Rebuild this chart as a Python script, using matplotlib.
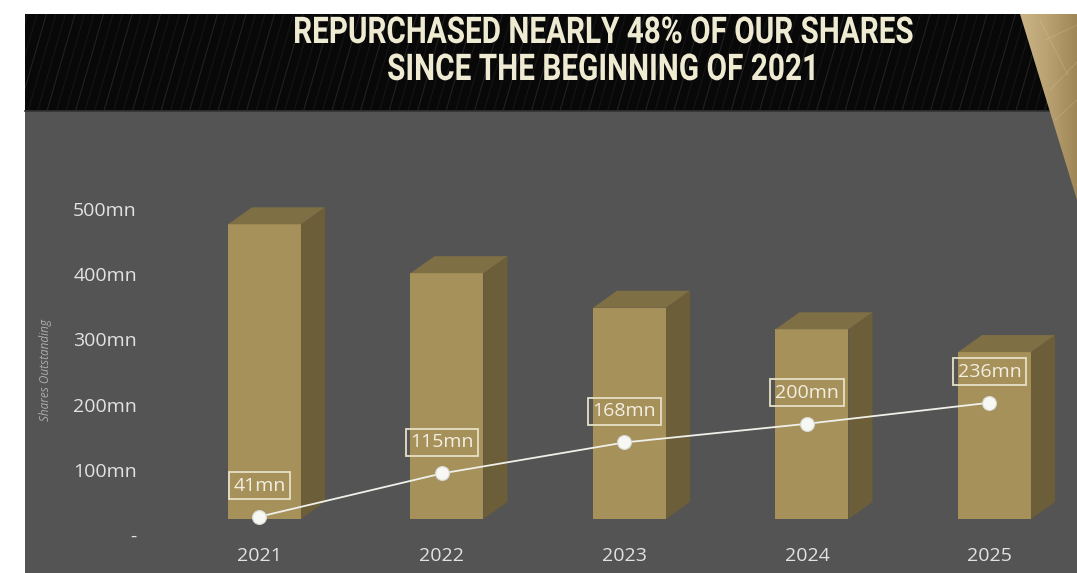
import numpy as np
import matplotlib
matplotlib.use("Agg")
import matplotlib.pyplot as plt
from matplotlib.patches import Polygon, Rectangle
from matplotlib.transforms import ScaledTranslation, Affine2D
from matplotlib.patheffects import AbstractPathEffect

# ---- data ----
years = ["2021", "2022", "2023", "2024", "2025"]
shares_outstanding = [452, 377, 324, 291, 256]      # mn, columns
shares_repurchased = [41, 115, 168, 200, 236]       # mn, cumulative line
ytick_values = [0, 100, 200, 300, 400, 500]
ytick_labels = ["-", "100mn", "200mn", "300mn", "400mn", "500mn"]

title_lines = ["REPURCHASED NEARLY 48% OF OUR SHARES", "SINCE THE BEGINNING OF 2021"]

# ---- style ----
W, H, DPI = 1077, 573, 100
BG_GRAY = "#545454"
HEADER = "#080808"
FRONT = "#a6915a"
SIDE = "#6b5e38"
TOP = "#7f6f45"
TEXT = "#e2e2e2"
CREAM = "#efebd3"

plt.rcParams["font.family"] = ["Open Sans", "DejaVu Sans"]


class Condense(AbstractPathEffect):
    """Squeeze glyphs horizontally around the centre of the text run."""

    def __init__(self, sx=1.0):
        super().__init__()
        self.sx = sx

    def draw_path(self, renderer, gc, tpath, affine, rgbFace=None):
        ext = tpath.get_extents(affine)
        cx = 0.5 * (ext.x0 + ext.x1)
        squeeze = Affine2D().translate(-cx, 0).scale(self.sx, 1).translate(cx, 0)
        renderer.draw_path(gc, tpath, affine + squeeze, rgbFace)


fig = plt.figure(figsize=(W / DPI, H / DPI), dpi=DPI, facecolor="white")

# ---- background canvas in pixel units ----
bg = fig.add_axes([0, 0, 1, 1])
bg.set_xlim(0, W)
bg.set_ylim(H, 0)
bg.axis("off")

bg.add_patch(Rectangle((25, 111), W - 25, H - 111, color=BG_GRAY, lw=0))
header = Rectangle((25, 14), W - 25, 97, color=HEADER, lw=0)
bg.add_patch(header)
bg.plot([25, W], [111, 111], color="#333333", lw=1.2)

# fine diagonal pinstripes in the header band
for k, x0 in enumerate(np.arange(-10, W + 10, 9.5)):
    ln, = bg.plot([x0, x0 + 28], [111, 14], color="#2a2a2a",
                  lw=0.8, alpha=0.4 if k % 3 else 0.75)
    ln.set_clip_path(header)

# gold diagonal accent at the top right corner
wedge = Polygon([(1020, 14), (W, 14), (W, 200)], closed=True, fc="none", ec="none")
bg.add_patch(wedge)
grad = np.linspace(0, 1, 64)[None, :]
gold = matplotlib.colors.LinearSegmentedColormap.from_list(
    "gold", ["#cdb88a", "#bba373", "#9f8757"])
im = bg.imshow(grad, cmap=gold, extent=(1015, W, 200, 14), aspect="auto", zorder=3)
im.set_clip_path(wedge)
bg.set_xlim(0, W)
bg.set_ylim(H, 0)
for a, b in [((1045, 40), (1077, 25)), ((1050, 90), (1077, 62)),
             ((1040, 20), (1068, 75)), ((1055, 120), (1077, 100))]:
    ln, = bg.plot([a[0], b[0]], [a[1], b[1]], color="#e8dab4", lw=0.5,
                  alpha=0.3, zorder=4)
    ln.set_clip_path(wedge)

# title (condensed heavy caps)
title_specs = [(title_lines[0], 33, 620), (title_lines[1], 70, 431)]
title_texts = []
for txt, yc, target in title_specs:
    t = bg.text(603, yc, txt, ha="center", va="center", color=CREAM,
                fontsize=26.5, fontweight="bold", family=["Roboto", "DejaVu Sans"],
                zorder=5)
    title_texts.append((t, target))

# axis title
bg.text(45, 370, "Shares Outstanding", rotation=90, ha="center", va="center",
        color="#ababab", fontsize=8.5, style="italic")

# ---- chart axes ----
x0_px, x1_px, y_top, y_zero = 150, 1071.6, 111, 535
step_px = 182.5
px_per_mn = 0.652
ax = fig.add_axes([x0_px / W, (H - y_zero) / H, (x1_px - x0_px) / W, (y_zero - y_top) / H])
ax.set_xlim(-0.6, 4.45)
ax.set_ylim(0, (y_zero - y_top) / px_per_mn)
ax.patch.set_alpha(0)
for s in ax.spines.values():
    s.set_visible(False)

x = np.arange(len(years))
ax.set_xticks(x, years)
ax.set_yticks(ytick_values, ytick_labels)
ax.tick_params(axis="both", length=0, labelcolor=TEXT, labelsize=14)
ax.tick_params(axis="y", pad=9.4)
ax.tick_params(axis="x", pad=8.5)

# 3D columns: front face sits slightly up/right of the axis plane,
# with side and top faces extruded further back
bar_w = 0.40
front = ax.transData + ScaledTranslation(5 / DPI, 16 / DPI, fig.dpi_scale_trans)
ddx = 24 / step_px          # depth in category units
ddy = 17 / px_per_mn        # depth in value units
ax.bar(x, shares_outstanding, width=bar_w, color=FRONT, lw=0,
       transform=front, zorder=3)
for xi, v in zip(x, shares_outstanding):
    l, r = xi - bar_w / 2, xi + bar_w / 2
    ax.add_patch(Polygon([(r, 0), (r + ddx, ddy), (r + ddx, v + ddy), (r, v)],
                         closed=True, fc=SIDE, lw=0, transform=front, zorder=3))
    ax.add_patch(Polygon([(l, v), (r, v), (r + ddx, v + ddy), (l + ddx, v + ddy)],
                         closed=True, fc=TOP, lw=0, transform=front, zorder=3))

# cumulative repurchase line on its own scale
ax2 = ax.twinx()
ax2.set_ylim(9.6, 735.4)
ax2.axis("off")
ax2.plot(x, shares_repurchased, color="#f0f0ea", lw=1.3, marker="o", ms=10,
         mfc="#f7f7f4", mec="#d8d8d4", mew=0.8, zorder=5)
for xi, v in zip(x, shares_repurchased):
    ax2.annotate(f"{v}mn", (xi, v), xytext=(0, 22.3), textcoords="offset points",
                 ha="center", va="center", color="#f2efe2", fontsize=14,
                 bbox=dict(boxstyle="square,pad=0.24", fc="none",
                           ec="#e6e0c6", lw=1.3), zorder=6)

# fit each title line to its width
fig.canvas.draw()
for t, target in title_texts:
    w = t.get_window_extent().width
    t.set_path_effects([Condense(target / w)])

fig.savefig("out.png", dpi=DPI, facecolor="white")
